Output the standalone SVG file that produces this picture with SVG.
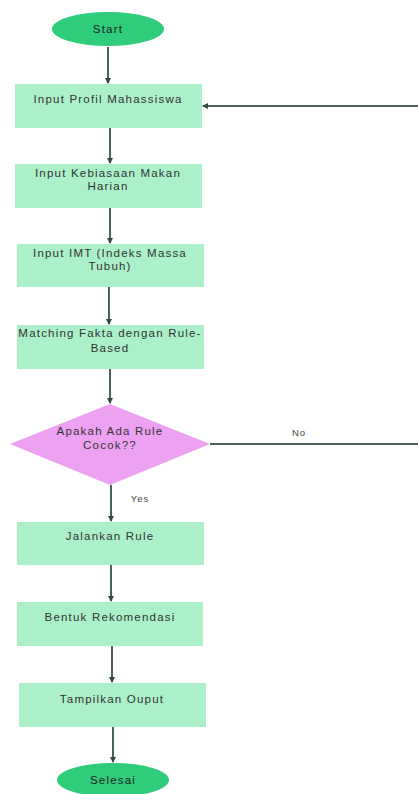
<svg xmlns="http://www.w3.org/2000/svg" width="418" height="794" viewBox="0 0 418 794">
<style>
.term{fill:#2ecc7b;}
.proc{fill:#abf0c9;}
.dec{fill:#eca2f1;}
.t{font-family:"Liberation Sans",Arial,sans-serif;font-size:11.5px;letter-spacing:1.2px;fill:#333;text-anchor:middle;}
.tb{font-family:"Liberation Sans",Arial,sans-serif;font-size:11.5px;letter-spacing:1.2px;fill:#222;text-anchor:middle;}
.c{stroke:#4b6159;stroke-width:2;fill:none;marker-end:url(#ah);}
.lbl{font-family:"Liberation Sans",Arial,sans-serif;font-size:9.5px;letter-spacing:1px;fill:#444;text-anchor:middle;}
</style>
<defs>
<marker id="ah" viewBox="0 0 6 6" refX="5" refY="3" markerWidth="3" markerHeight="3" orient="auto" markerUnits="strokeWidth">
<path d="M0,0 L6,3 L0,6 z" fill="#2f4a40"/>
</marker>
</defs>
<rect width="418" height="794" fill="#fff"/>
<g id="connectors">
<line class="c" x1="108" y1="47" x2="108" y2="83"/>
<line class="c" x1="110" y1="128" x2="110" y2="163"/>
<line class="c" x1="110" y1="208" x2="110" y2="243"/>
<line class="c" x1="109" y1="287" x2="109" y2="324"/>
<line class="c" x1="110" y1="369" x2="110" y2="403"/>
<line class="c" x1="111" y1="485" x2="111" y2="521"/>
<line class="c" x1="111" y1="565" x2="111" y2="601"/>
<line class="c" x1="112" y1="646" x2="112" y2="682"/>
<line class="c" x1="113" y1="727" x2="113" y2="762"/>
<path class="c" d="M210,444 L421,444 L421,106 L203,106"/>
<text class="lbl" x="140" y="502">Yes</text>
<text class="lbl" x="299" y="436">No</text>
</g>
<g id="start">
<ellipse class="term" cx="108" cy="29" rx="56" ry="17"/>
<text class="tb" x="108" y="33">Start</text>
</g>
<g id="input-profil">
<rect class="proc" x="15" y="84" width="187" height="44"/>
<text class="t" x="108" y="103">Input Profil Mahassiswa</text>
</g>
<g id="input-kebiasaan">
<rect class="proc" x="15" y="164" width="187" height="44"/>
<text class="t" x="108" y="177">Input Kebiasaan Makan</text>
<text class="t" x="108" y="190">Harian</text>
</g>
<g id="input-imt">
<rect class="proc" x="17" y="244" width="187" height="43"/>
<text class="t" x="110" y="257">Input IMT (Indeks Massa</text>
<text class="t" x="110" y="270">Tubuh)</text>
</g>
<g id="matching">
<rect class="proc" x="17" y="325" width="187" height="44"/>
<text class="t" x="110" y="337">Matching Fakta dengan Rule-</text>
<text class="t" x="110" y="352">Based</text>
</g>
<g id="decision">
<polygon class="dec" points="110,404 210,444 110,485 10,444"/>
<text class="t" x="110" y="435">Apakah Ada Rule</text>
<text class="t" x="110" y="449">Cocok??</text>
</g>
<g id="jalankan">
<rect class="proc" x="17" y="522" width="187" height="43"/>
<text class="t" x="110" y="540">Jalankan Rule</text>
</g>
<g id="bentuk">
<rect class="proc" x="17" y="602" width="186" height="44"/>
<text class="t" x="110" y="621">Bentuk Rekomendasi</text>
</g>
<g id="tampilkan">
<rect class="proc" x="19" y="683" width="187" height="44"/>
<text class="t" x="112" y="703">Tampilkan Ouput</text>
</g>
<g id="selesai">
<ellipse class="term" cx="113" cy="780" rx="56" ry="17"/>
<text class="tb" x="113" y="784">Selesai</text>
</g>
</svg>
